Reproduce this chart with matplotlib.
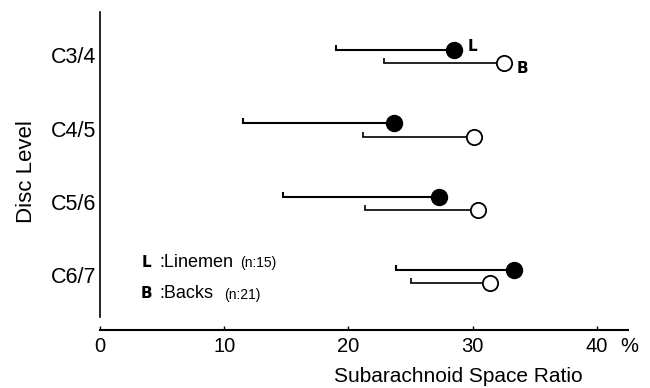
import matplotlib
matplotlib.use('Agg')
import matplotlib.pyplot as plt
from matplotlib.path import Path
import numpy as np

plt.rcParams['font.family'] = ['Liberation Sans', 'DejaVu Sans']

# disc levels, top to bottom
levels = ['C3/4', 'C4/5', 'C5/6', 'C6/7']
# linemen (filled) and backs (open): mean and lower end of the bar
linemen_mean = [28.5, 23.7, 27.3, 33.3]
linemen_low = [19.0, 11.5, 14.7, 23.8]
backs_mean = [32.5, 30.1, 30.4, 31.4]
backs_low = [22.9, 21.2, 21.3, 25.0]
xticks = [0, 10, 20, 30, 40]

fig = plt.figure(figsize=(6.5, 3.88), dpi=100)
ax = fig.add_axes([0.154, 0.149, 0.812, 0.82])

ypos = np.arange(len(levels), 0, -1)  # 4,3,2,1
yl = ypos + 0.07
yb = ypos - 0.11

# small upward tick at the left end of each bar
tick = Path([(0, 0), (0, 1)])

for y, m, lo in zip(yl, linemen_mean, linemen_low):
    ax.plot([lo, m], [y, y], color='black', lw=1.5, zorder=1)
    ax.plot([lo], [y], marker=tick, ms=7, mew=1.5, color='black')
for y, m, lo in zip(yb, backs_mean, backs_low):
    ax.plot([lo, m], [y, y], color='black', lw=1.2, zorder=1)
    ax.plot([lo], [y], marker=tick, ms=7, mew=1.2, color='black')

ax.plot(linemen_mean, yl, 'o', ms=11.5, color='black', zorder=3)
ax.plot(backs_mean, yb, 'o', ms=11, mfc='white', mec='black', mew=1.3, zorder=3)

cond = 'DejaVu Sans Condensed'
# point labels at C3/4
ax.text(30.0, 4.12, 'L', fontsize=11, fontweight='bold', ha='center', va='center', family=cond)
ax.text(34.0, 3.82, 'B', fontsize=11, fontweight='bold', ha='center', va='center', family=cond)

# key
ax.text(3.7, 1.18, 'L', fontsize=11, fontweight='bold', ha='center', va='center', family=cond)
ax.text(4.75, 1.18, ':Linemen', fontsize=13, va='center')
ax.text(11.3, 1.16, '(n:15)', fontsize=10, va='center')
ax.text(3.7, 0.75, 'B', fontsize=11, fontweight='bold', ha='center', va='center', family=cond)
ax.text(4.75, 0.75, ':Backs', fontsize=13, va='center')
ax.text(10.0, 0.73, '(n:21)', fontsize=10, va='center')

ax.set_xlim(0, 42.5)
ax.set_ylim(0.25, 4.59)
ax.set_xticks(xticks)
ax.set_xticklabels([str(t) for t in xticks], fontsize=14.5)
ax.tick_params(axis='x', direction='in', length=3, width=1, pad=5)
ax.set_yticks(ypos)
ax.set_yticklabels(levels, fontsize=15.5)
ax.tick_params(axis='y', length=0, pad=3)

ax.spines['top'].set_visible(False)
ax.spines['right'].set_visible(False)
ax.spines['bottom'].set_linewidth(1.5)
ax.spines['left'].set_linewidth(1.2)
ax.spines['left'].set_bounds(0.43, 4.59)

ax.text(42.6, -0.022, '%', fontsize=14.5, ha='center', va='top',
        transform=ax.get_xaxis_transform())
ax.set_xlabel('Subarachnoid Space Ratio', fontsize=15)
ax.xaxis.set_label_coords(0.678, -0.115)
ax.set_ylabel('Disc Level', fontsize=16)
ax.yaxis.set_label_coords(-0.12, 0.5)

fig.savefig('out.png', dpi=100)
